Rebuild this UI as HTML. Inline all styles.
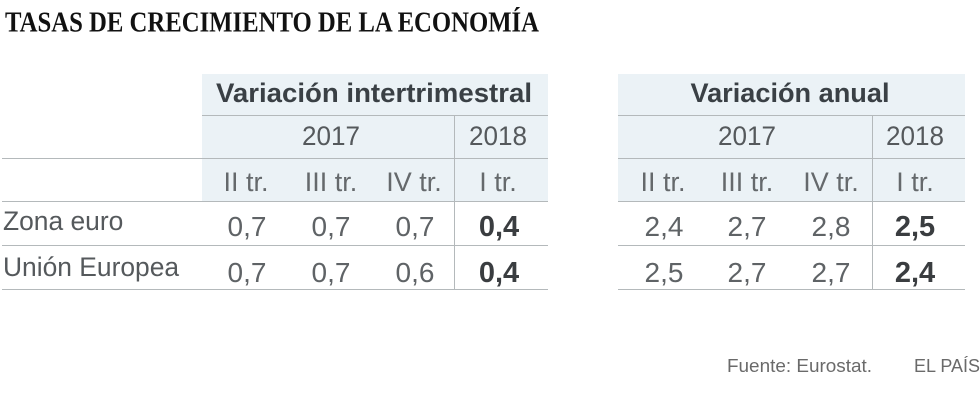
<!DOCTYPE html>
<html lang="es">
<head>
<meta charset="utf-8">
<title>Tasas de crecimiento de la economía</title>
<style>
html,body{margin:0;padding:0;background:#fff;}
body{width:980px;height:403px;overflow:hidden;}
svg{display:block;font-family:"Liberation Sans",sans-serif;}
</style>
</head>
<body>
<svg id="chart" width="980" height="403" viewBox="0 0 980 403" xmlns="http://www.w3.org/2000/svg">
  <text x="5" y="31.5" font-family="'Liberation Serif',serif" font-weight="700" font-size="28" fill="#111" textLength="534" lengthAdjust="spacingAndGlyphs">TASAS DE CRECIMIENTO DE LA ECONOMÍA</text>
  <g id="tables"></g>
  <text x="727" y="372" font-size="18" fill="#6a6a6a" textLength="145" lengthAdjust="spacingAndGlyphs">Fuente: Eurostat.</text>
  <text x="914" y="372" font-size="18" fill="#6a6a6a" textLength="66" lengthAdjust="spacingAndGlyphs">EL PAÍS</text>
</svg>
<script>
var rowLabels = ['Zona euro', 'Unión Europea'];
var quarterLabels = ['II tr.', 'III tr.', 'IV tr.', 'I tr.'];
var yearLabels = ['2017', '2018'];
var quarterlyTitle = 'Variación intertrimestral';
var annualTitle = 'Variación anual';
var quarterlyEuro = ['0,7', '0,7', '0,7', '0,4'];
var quarterlyEu = ['0,7', '0,7', '0,6', '0,4'];
var annualEuro = ['2,4', '2,7', '2,8', '2,5'];
var annualEu = ['2,5', '2,7', '2,7', '2,4'];

var NS = 'http://www.w3.org/2000/svg';
var root = document.getElementById('tables');

function addRect(x, y, w, h, fill) {
  var el = document.createElementNS(NS, 'rect');
  
  
  el.setAttribute('x', x);
  el.setAttribute('y', y);
  el.setAttribute('width', w);
  el.setAttribute('height', h);
  el.setAttribute('fill', fill);
  root.appendChild(el);
}
function addLine(x1, y1, x2, y2) {
  var el = document.createElementNS(NS, 'line');
  
  
  el.setAttribute('x1', x1);
  el.setAttribute('y1', y1);
  el.setAttribute('x2', x2);
  el.setAttribute('y2', y2);
  el.setAttribute('stroke', '#b4b9bb');
  el.setAttribute('stroke-width', '1');
  root.appendChild(el);
}
function addText(str, x, y, size, anchor, weight, fill, name, length) {
  var el = document.createElementNS(NS, 'text');
  
  
  el.setAttribute('x', x);
  el.setAttribute('y', y);
  el.setAttribute('font-size', size);
  el.setAttribute('text-anchor', anchor);
  el.setAttribute('font-weight', weight);
  el.setAttribute('fill', fill);
  if (length) {
    el.setAttribute('textLength', length);
    el.setAttribute('lengthAdjust', 'spacingAndGlyphs');
  }
  el.textContent = str;
  root.appendChild(el);
}
function drawTable(left, right, divider, valueCenters, labelCenters, title, titleLength, titleCenter, rows, yearCenter, extend) {
  var ruleStart = extend ? 2 : left;
  addRect(left, 74, right - left, 127, '#ebf2f6');
  addLine(left, 115.5, right, 115.5);
  addLine(ruleStart, 158.5, right, 158.5);
  addLine(ruleStart, 201.5, right, 201.5);
  addLine(ruleStart, 245.5, right, 245.5);
  addLine(ruleStart, 289.5, right, 289.5);
  addLine(divider + 0.5, 115, divider + 0.5, 289);
  addText(title, titleCenter, 102, 27, 'middle', '700', '#3a4045', 'table-title', titleLength);
  addText(yearLabels[0], yearCenter, 145, 27, 'middle', '400', '#55595c', 'year-label', 58);
  addText(yearLabels[1], labelCenters[3], 145, 27, 'middle', '400', '#55595c', 'year-label', 58);
  quarterLabels.forEach(function (q, i) {
    addText(q, labelCenters[i], 191, 27, 'middle', '400', '#65696c', 'quarter-label');
  });
  rows.forEach(function (row, r) {
    var y = 236 + r * 46;
    row.forEach(function (v, i) {
      var bold = i === 3;
      addText(v, valueCenters[i], y, bold ? 29 : 28, 'middle', bold ? '700' : '400', bold ? '#3a3d40' : '#5f6366', 'value-cell');
    });
  });
}
drawTable(202, 548, 454, [247, 331, 415, 499], [246, 331, 414, 498], quarterlyTitle, 316, 374, [quarterlyEuro, quarterlyEu], 331, true);
drawTable(618, 965, 872, [664, 747, 831, 915], [663, 747, 831, 915], annualTitle, 199, 790, [annualEuro, annualEu], 747, false);
rowLabels.forEach(function (label, r) {
  addText(label, 3, 230 + r * 46, 26.4, 'start', '400', '#55595c', 'row-label');
});
</script>
</body>
</html>
